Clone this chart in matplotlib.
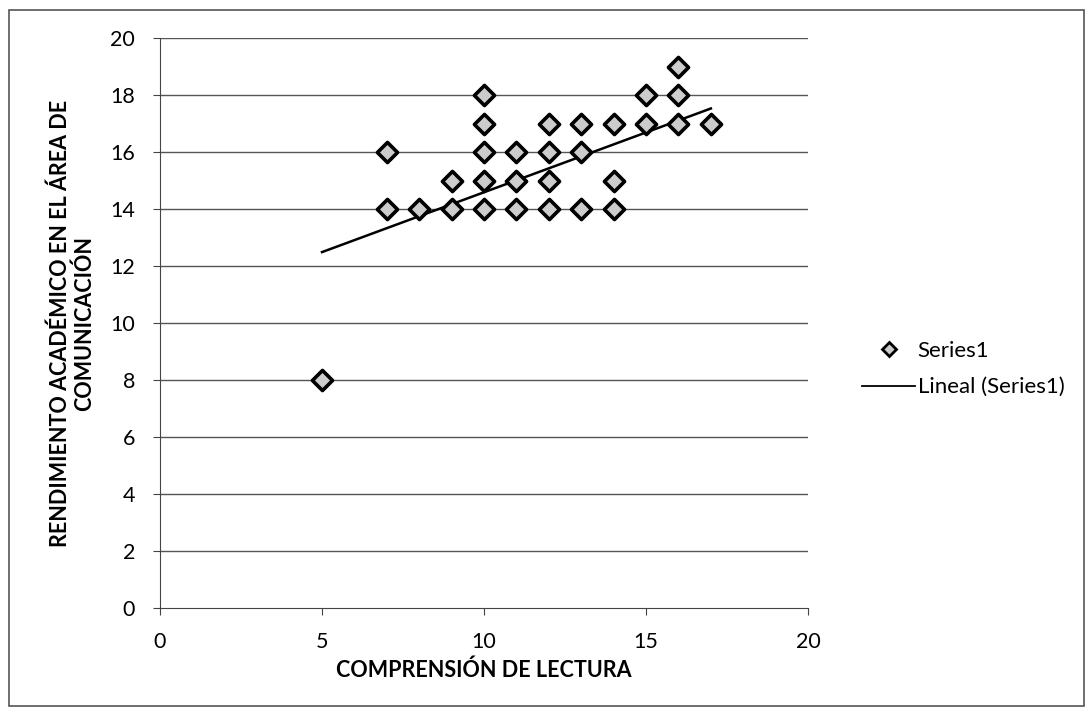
import matplotlib
matplotlib.use("Agg")
import matplotlib.pyplot as plt
from matplotlib.patches import Rectangle
from matplotlib.lines import Line2D
import numpy as np

plt.rcParams['font.family'] = ['Lato', 'DejaVu Sans']

comprension = [5, 7, 7, 8, 9, 9, 10, 10, 10, 10, 10, 11, 11, 11, 12, 12, 12, 12,
               13, 13, 13, 14, 14, 14, 15, 15, 16, 16, 16, 17]
rendimiento = [8, 16, 14, 14, 15, 14, 18, 17, 16, 15, 14, 16, 15, 14, 17, 16, 15, 14,
               17, 16, 14, 17, 15, 14, 18, 17, 19, 18, 17, 17]
trend_slope = 0.42
trend_intercept = 10.39
trend_x_range = [5, 17]
x_ticks = [0, 5, 10, 15, 20]
y_ticks = [0, 2, 4, 6, 8, 10, 12, 14, 16, 18, 20]

fig = plt.figure(figsize=(10.92, 7.19), dpi=100)
ax = fig.add_axes([0.1465, 0.1544, 0.5935, 0.7926])

for yt in y_ticks[1:]:
    ax.axhline(yt, color='#555555', lw=1.0, zorder=1)

tx = np.array(trend_x_range, dtype=float)
ax.plot(tx, trend_slope * tx + trend_intercept, color='black', lw=1.8, zorder=3)

ax.scatter(comprension, rendimiento, marker='D', s=105, facecolor='#cccccc',
           edgecolor='black', linewidths=2.6, zorder=4)

ax.set_xlim(0, 20)
ax.set_ylim(0, 20)
ax.set_xticks(x_ticks)
ax.set_yticks(y_ticks)
for s in ['top', 'right']:
    ax.spines[s].set_visible(False)
ax.spines['left'].set_color('#444444')
ax.spines['bottom'].set_color('#444444')
ax.tick_params(axis='both', labelsize=15.5, color='#444444', length=5)
ax.tick_params(axis='x', pad=12)
ax.tick_params(axis='y', pad=13)

ax.set_xlabel('COMPRENSIÓN DE LECTURA', fontsize=15.5, fontweight='bold', labelpad=6)
ax.set_ylabel('RENDIMIENTO ACADÉMICO EN EL ÁREA DE\nCOMUNICACIÓN', fontsize=15.5,
              fontweight='bold', labelpad=11, linespacing=1.15)

handles = [Line2D([], [], marker='D', ls='none', markersize=7, markerfacecolor='#cccccc',
                  markeredgecolor='black', markeredgewidth=2),
           Line2D([], [], color='black', lw=1.3)]
fig.legend(handles, ['Series1', 'Lineal (Series1)'], loc='center left',
           bbox_to_anchor=(862 / 1092, 1 - 369 / 719), frameon=False, fontsize=16,
           handlelength=2.4, handletextpad=0.1, labelspacing=0.75,
           borderpad=0, borderaxespad=0)

fig.patches.append(Rectangle((0.008, 0.018), 0.985, 0.968, transform=fig.transFigure,
                             fill=False, edgecolor='#555555', lw=1.2))

fig.savefig('out.png', dpi=100)
